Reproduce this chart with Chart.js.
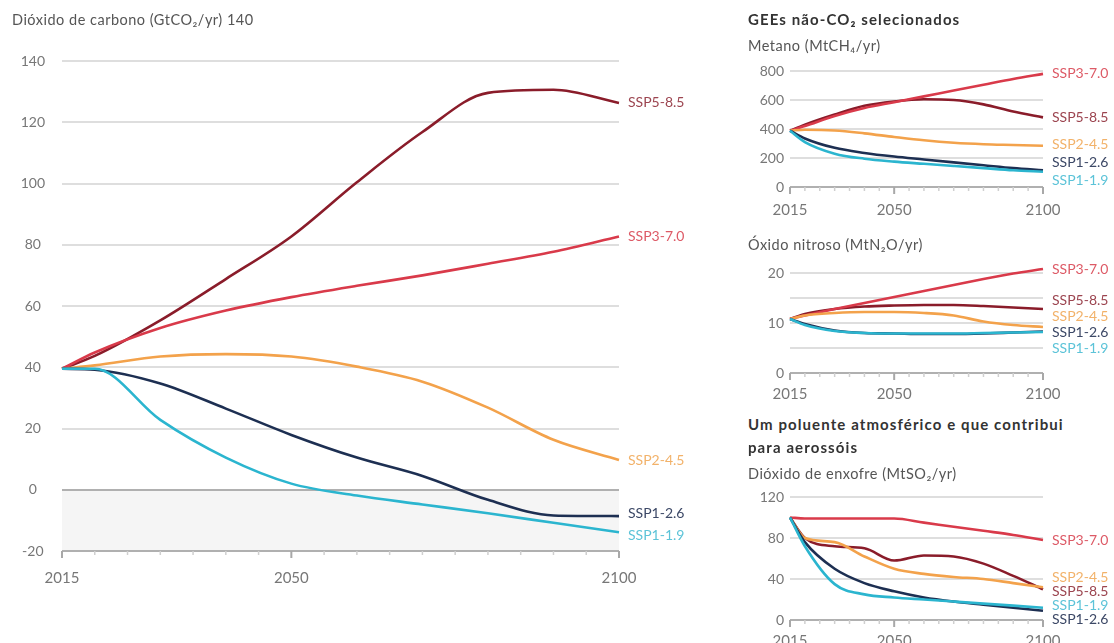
<!DOCTYPE html>
<html>
<head>
<meta charset="utf-8">
<script src="https://cdn.jsdelivr.net/npm/chart.js@4.4.1/dist/chart.umd.min.js"></script>
<style>
  body { margin: 0; background: #fff; font-family: Lato, "Open Sans", sans-serif; }
  #wrap { position: relative; width: 1114px; height: 643px; overflow: hidden; }
  canvas { position: absolute; }
  .t { position: absolute; z-index: 2; color: #555; font-size: 14.5px; letter-spacing: 0.5px; white-space: nowrap; }
  .b { font-weight: bold; color: #333; font-size: 15px; letter-spacing: 1.1px; }
</style>
</head>
<body>
<div id="wrap">
  <canvas id="co2" width="700" height="643" style="left:0;top:0"></canvas>
  <canvas id="ch4" width="374" height="168" style="left:740px;top:50px"></canvas>
  <canvas id="n2o" width="374" height="150" style="left:740px;top:250px"></canvas>
  <canvas id="so2" width="374" height="163" style="left:740px;top:480px"></canvas>

  <div class="t" style="left:12px;top:11px">Dióxido de carbono (GtCO₂/yr) 140</div>
  <div class="t b" style="left:748px;top:10px">GEEs não-CO₂ selecionados</div>
  <div class="t" style="left:748px;top:37px">Metano (MtCH₄/yr)</div>
  <div class="t" style="left:748px;top:236px">Óxido nitroso (MtN₂O/yr)</div>
  <div class="t b" style="left:748px;top:415px">Um poluente atmosférico e que contribui</div>
  <div class="t b" style="left:748px;top:438px">para aerossóis</div>
  <div class="t" style="left:748px;top:465px">Dióxido de enxofre (MtSO₂/yr)</div>
</div>

<script>
// years and scenarios
const years = [2015, 2020, 2030, 2040, 2050, 2060, 2070, 2080, 2090, 2100];
const xLabelYears = [2015, 2050, 2100];
const scenarios = ['SSP1-1.9', 'SSP1-2.6', 'SSP2-4.5', 'SSP3-7.0', 'SSP5-8.5'];
const lineColors = ['#2bb5cf', '#1d2f52', '#f3a24b', '#d93a4a', '#8a1c2a'];
const labelColors = ['#5cc3d8', '#3c4866', '#f2b26a', '#dd5a66', '#9c4550'];

// CO2 (GtCO2/yr)
const co2_119 = [39.5, 39.5, 22.8, 10.5, 2.0, -1.9, -4.8, -7.7, -10.8, -13.9];
const co2_126 = [39.5, 39.2, 34.7, 26.5, 17.9, 10.5, 4.5, -3.3, -8.4, -8.6];
const co2_245 = [39.5, 40.6, 43.5, 44.3, 43.5, 40.2, 35.3, 26.8, 16.3, 9.7];
const co2_370 = [39.5, 44.8, 52.8, 58.5, 62.9, 66.6, 70.0, 73.8, 77.7, 82.7];
const co2_585 = [39.5, 43.7, 55.3, 68.8, 82.7, 100.4, 116.8, 129.6, 130.6, 126.3];

// methane (MtCH4/yr)
const ch4_119 = [388, 310, 230, 195, 175, 160, 145, 130, 115, 105];
const ch4_126 = [388, 335, 270, 235, 210, 190, 170, 150, 130, 115];
const ch4_245 = [388, 395, 390, 370, 345, 322, 305, 295, 290, 285];
const ch4_370 = [388, 420, 490, 545, 585, 625, 665, 705, 745, 780];
const ch4_585 = [388, 430, 500, 560, 590, 605, 600, 570, 520, 480];

// nitrous oxide (MtN2O/yr)
const n2o_119 = [10.8, 9.6, 8.4, 8.0, 7.9, 7.9, 7.9, 8.0, 8.1, 8.2];
const n2o_126 = [10.8, 9.8, 8.5, 8.0, 7.9, 7.8, 7.8, 7.9, 8.1, 8.3];
const n2o_245 = [10.8, 11.5, 12.0, 12.2, 12.2, 12.0, 11.5, 10.3, 9.6, 9.2];
const n2o_370 = [10.8, 11.5, 12.8, 14.0, 15.2, 16.4, 17.6, 18.8, 19.9, 20.8];
const n2o_585 = [10.8, 11.8, 12.8, 13.3, 13.5, 13.6, 13.6, 13.4, 13.1, 12.8];

// sulphur dioxide (MtSO2/yr)
const so2_119 = [100, 72, 35, 25, 22, 20, 18, 16, 14, 12];
const so2_126 = [100, 76, 50, 36, 28, 22, 18, 15, 12, 9];
const so2_245 = [100, 80, 76, 62, 50, 45, 42, 40, 36, 32];
const so2_370 = [100, 99, 99, 99, 99, 95, 91, 87, 83, 78];
const so2_585 = [100, 80, 72, 70, 58, 63, 62, 55, 43, 30];


// grey band below zero (main chart)
const belowZero = {
    id: 'belowZero',
    beforeDraw(chart, args, opts) {
        if (!opts.on) return;
        const a = chart.chartArea, y0 = chart.scales.y.getPixelForValue(0);
        chart.ctx.save();
        chart.ctx.fillStyle = '#f5f5f5';
        chart.ctx.fillRect(a.left, y0, a.right - a.left, a.bottom - y0);
        chart.ctx.restore();
    }
};

// small tick marks under the x axis, every 5 years
const axisTicks = {
    id: 'axisTicks',
    afterDraw(chart) {
        const xs = chart.scales.x, y = chart.chartArea.bottom, ctx = chart.ctx;
        ctx.save();
        xs.ticks.forEach(t => {
            const px = xs.getPixelForValue(t.value);
            const major = xLabelYears.includes(t.value);
            ctx.strokeStyle = major ? '#a8a8a8' : '#cfcfcf';
            ctx.lineWidth = major ? 2 : 1.5;
            ctx.beginPath();
            ctx.moveTo(px, y);
            ctx.lineTo(px, y + (major ? 7 : 4));
            ctx.stroke();
        });
        ctx.restore();
    }
};

// scenario names at the end of each line, pushed apart if they collide
const endLabels = {
    id: 'endLabels',
    afterDraw(chart, args, opts) {
        const ctx = chart.ctx;
        const items = chart.data.datasets.map((ds, i) => {
            const pt = chart.getDatasetMeta(i).data[ds.data.length - 1];
            return { text: ds.label, y: pt.y, color: labelColors[i] };
        });
        items.sort((a, b) => a.y - b.y);
        for (let k = 0; k < 200; k++) {
            for (let i = 1; i < items.length; i++) {
                const d = items[i].y - items[i - 1].y;
                if (d < opts.gap) {
                    const s = (opts.gap - d) / 2;
                    items[i].y += s;
                    items[i - 1].y -= s;
                }
            }
        }
        ctx.save();
        ctx.font = '14px Lato, sans-serif';
        ctx.textBaseline = 'middle';
        items.forEach(it => {
            ctx.fillStyle = it.color;
            ctx.fillText(it.text, chart.chartArea.right + 9, it.y);
        });
        ctx.restore();
    }
};

function makeChart(id, series, p) {
    const datasets = series.map((vals, i) => ({
        label: scenarios[i],
        data: years.map((yr, j) => ({ x: yr, y: vals[j] })),
        borderColor: lineColors[i],
        borderWidth: 2.6,
        pointRadius: 0,
        cubicInterpolationMode: 'monotone',
        clip: false
    }));

    return new Chart(document.getElementById(id), {
        type: 'line',
        data: { datasets },
        options: {
            responsive: false,
            animation: false,
            devicePixelRatio: 1,
            layout: { padding: { top: p.top, right: p.right, left: 0, bottom: 0 } },
            plugins: {
                legend: { display: false },
                tooltip: { enabled: false },
                belowZero: { on: !!p.shade },
                endLabels: { gap: p.gap }
            },
            scales: {
                x: {
                    type: 'linear',
                    min: 2015,
                    max: 2100,
                    afterBuildTicks: scale => {
                        const t = [];
                        for (let v = 2015; v <= 2100; v += 5) t.push({ value: v });
                        scale.ticks = t;
                    },
                    afterFit: scale => { scale.height = p.xHeight; },
                    grid: { display: false, drawTicks: false },
                    border: { display: false },
                    ticks: {
                        autoSkip: false,
                        maxRotation: 0,
                        padding: p.xPad,
                        color: '#777',
                        font: { family: 'Lato', size: 15 },
                        callback: v => xLabelYears.includes(v) ? String(v) : ''
                    }
                },
                y: {
                    min: p.min,
                    max: p.max,
                    afterFit: scale => { scale.width = p.yWidth; },
                    border: { display: false },
                    grid: {
                        drawTicks: false,
                        lineWidth: 2,
                        color: c => (c.tick && (c.tick.value === 0 || c.tick.value === p.min)) ? '#b0b0b0' : '#dedede'
                    },
                    ticks: {
                        stepSize: p.step,
                        padding: p.yPad,
                        crossAlign: p.yAlign,
                        color: '#777',
                        font: { family: 'Lato', size: 14 },
                        callback: v => (p.every && v % p.every !== 0) ? '' : v
                    }
                }
            }
        },
        plugins: [belowZero, axisTicks, endLabels]
    });
}

makeChart('co2', [co2_119, co2_126, co2_245, co2_370, co2_585],
    { top: 61, right: 81, xHeight: 92, yWidth: 62, xPad: 18, yPad: 17, yAlign: 'center',
      min: -20, max: 140, step: 20, gap: 22, shade: true });

makeChart('ch4', [ch4_119, ch4_126, ch4_245, ch4_370, ch4_585],
    { top: 21, right: 71, xHeight: 31, yWidth: 50, xPad: 14, yPad: 6, yAlign: 'near',
      min: 0, max: 800, step: 200, gap: 18 });

makeChart('n2o', [n2o_119, n2o_126, n2o_245, n2o_370, n2o_585],
    { top: 23, right: 71, xHeight: 27, yWidth: 50, xPad: 12, yPad: 6, yAlign: 'near',
      min: 0, max: 20, step: 5, every: 10, gap: 16 });

makeChart('so2', [so2_119, so2_126, so2_245, so2_370, so2_585],
    { top: 17, right: 71, xHeight: 23, yWidth: 50, xPad: 12, yPad: 6, yAlign: 'near',
      min: 0, max: 120, step: 40, gap: 14 });
</script>
</body>
</html>
